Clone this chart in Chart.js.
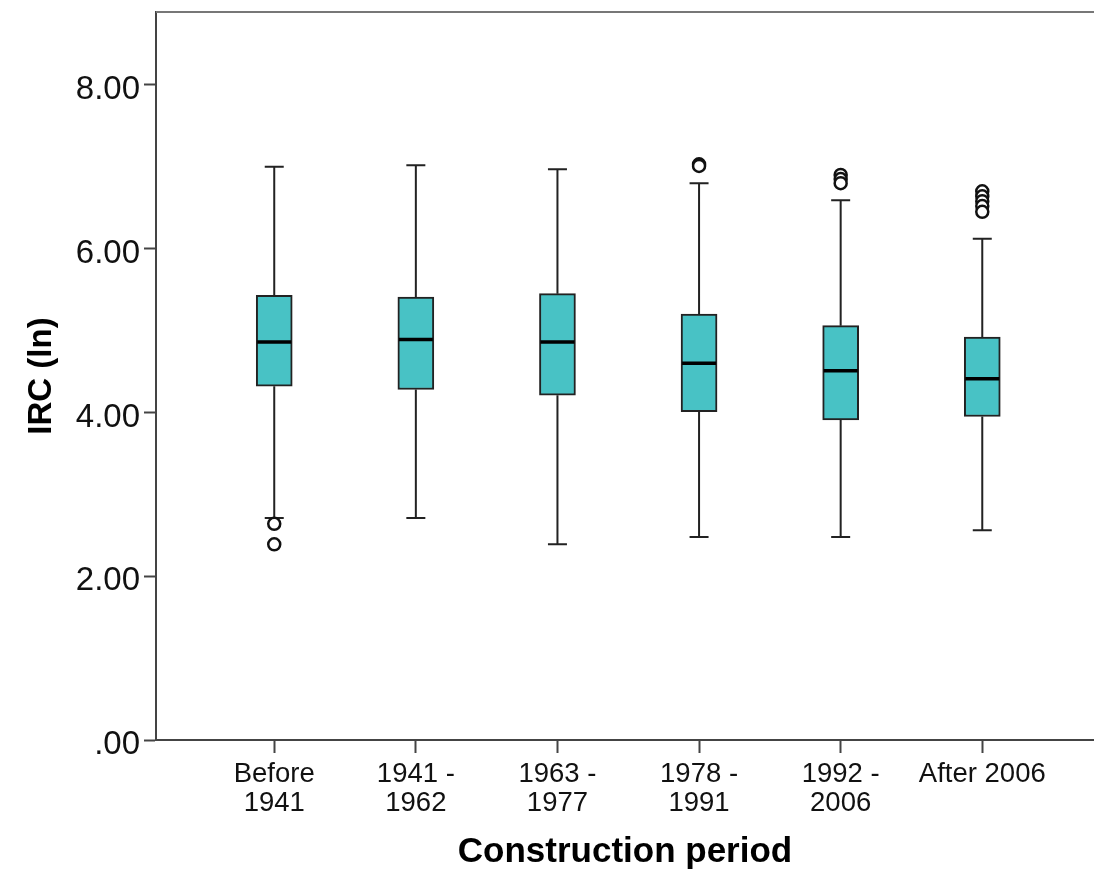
<!DOCTYPE html>
<html>
<head>
<meta charset="utf-8">
<script src="https://cdn.jsdelivr.net/npm/chart.js@4"></script>
<style>
  html, body { margin: 0; padding: 0; background: #fff; overflow: hidden; }
  #irc { display: block; }
</style>
</head>
<body>
<canvas id="irc" width="1094" height="873"></canvas>
<script>
// IRC (ln) by construction period, five-number summary per group
const periods = [['Before', '1941'], ['1941 -', '1962'], ['1963 -', '1977'], ['1978 -', '1991'], ['1992 -', '2006'], 'After 2006'];
const whiskerLow = [2.71, 2.71, 2.39, 2.48, 2.48, 2.56];
const q1 = [4.32, 4.28, 4.21, 4.01, 3.91, 3.95];
const median = [4.86, 4.89, 4.86, 4.60, 4.51, 4.41];
const q3 = [5.43, 5.41, 5.45, 5.20, 5.06, 4.92];
const whiskerHigh = [7.00, 7.02, 6.97, 6.80, 6.59, 6.12];
const outliers = [[2.64, 2.39], [], [], [7.03, 7.01], [6.90, 6.85, 6.80], [6.70, 6.64, 6.58, 6.52, 6.45]];
const yTicks = [0, 2, 4, 6, 8];

const font = '"Liberation Sans", Arial, sans-serif';
const axisColor = '#444';

// whiskers behind the boxes, medians on top
const boxParts = {
  id: 'boxParts',
  beforeDatasetsDraw(chart) {
    const {ctx, scales: {x, y}} = chart;
    ctx.save();
    ctx.strokeStyle = '#222';
    ctx.lineWidth = 2;
    ctx.beginPath();
    periods.forEach((p, i) => {
      const cx = x.getPixelForValue(i);
      ctx.moveTo(cx, y.getPixelForValue(q3[i]));
      ctx.lineTo(cx, y.getPixelForValue(whiskerHigh[i]));
      ctx.moveTo(cx, y.getPixelForValue(q1[i]));
      ctx.lineTo(cx, y.getPixelForValue(whiskerLow[i]));
      [whiskerHigh[i], whiskerLow[i]].forEach(v => {
        const py = y.getPixelForValue(v);
        ctx.moveTo(cx - 9.5, py);
        ctx.lineTo(cx + 9.5, py);
      });
    });
    ctx.stroke();
    ctx.restore();
  },
  afterDatasetsDraw(chart) {
    const {ctx, scales: {x, y}} = chart;
    ctx.save();
    ctx.strokeStyle = '#000';
    ctx.lineWidth = 3.5;
    ctx.beginPath();
    median.forEach((m, i) => {
      const cx = x.getPixelForValue(i);
      const py = y.getPixelForValue(m);
      ctx.moveTo(cx - 17, py);
      ctx.lineTo(cx + 17, py);
    });
    ctx.stroke();
    // frame line along the top of the plot
    const a = chart.chartArea;
    ctx.strokeStyle = '#777';
    ctx.lineWidth = 2;
    ctx.beginPath();
    ctx.moveTo(a.left, a.top);
    ctx.lineTo(a.right, a.top);
    ctx.stroke();
    ctx.restore();
  }
};

const outlierPoints = [];
outliers.forEach((list, i) => list.forEach(v => outlierPoints.push({x: i, y: v})));

new Chart(document.getElementById('irc'), {
  type: 'bar',
  data: {
    datasets: [{
      type: 'scatter',
      data: outlierPoints,
      pointRadius: 6,
      pointBorderWidth: 2.5,
      pointBackgroundColor: '#fff',
      pointBorderColor: '#111'
    }, {
      type: 'bar',
      data: periods.map((p, i) => ({x: i, y: [q1[i], q3[i]]})),
      backgroundColor: '#48c2c5',
      borderColor: '#222',
      borderWidth: 2,
      borderSkipped: false,
      barThickness: 36
    }]
  },
  options: {
    responsive: false,
    animation: false,
    layout: { autoPadding: false, padding: { top: 12, left: 0, right: 0, bottom: 0 } },
    plugins: { legend: { display: false }, tooltip: { enabled: false } },
    scales: {
      x: {
        type: 'linear',
        min: -0.835,
        max: 5.789,
        offset: false,
        afterBuildTicks: s => { s.ticks = periods.map((p, i) => ({value: i})); },
        afterFit: s => { s.height = 133; s.paddingLeft = 0; s.paddingRight = 0; },
        ticks: {
          callback: (v, i) => periods[i],
          font: { family: font, size: 27.5, lineHeight: 29 / 27.5 },
          color: '#111',
          padding: 7,
          maxRotation: 0,
          autoSkip: false
        },
        grid: { drawOnChartArea: false, tickLength: 13, tickColor: axisColor, tickWidth: 2, offset: false },
        border: { color: axisColor, width: 2 },
        title: {
          display: true,
          text: 'Construction period',
          font: { family: font, size: 35, weight: 'bold' },
          color: '#000',
          padding: { top: 0, bottom: 0 }
        }
      },
      y: {
        min: 0,
        max: 8.89,
        afterBuildTicks: s => { s.ticks = yTicks.map(v => ({value: v})); },
        afterFit: s => { s.width = 156; s.paddingTop = 0; s.paddingBottom = 0; },
        ticks: {
          callback: v => v === 0 ? '.00' : v.toFixed(2),
          font: { family: font, size: 33 },
          color: '#111',
          padding: 4,
          labelOffset: 5
        },
        grid: { drawOnChartArea: false, tickLength: 12, tickColor: axisColor, tickWidth: 2 },
        border: { color: axisColor, width: 2 },
        title: {
          display: true,
          text: 'IRC (ln)',
          font: { family: font, size: 33, weight: 'bold' },
          color: '#000',
          padding: { top: 22, bottom: 0 }
        }
      }
    }
  },
  plugins: [boxParts]
});
</script>
</body>
</html>
